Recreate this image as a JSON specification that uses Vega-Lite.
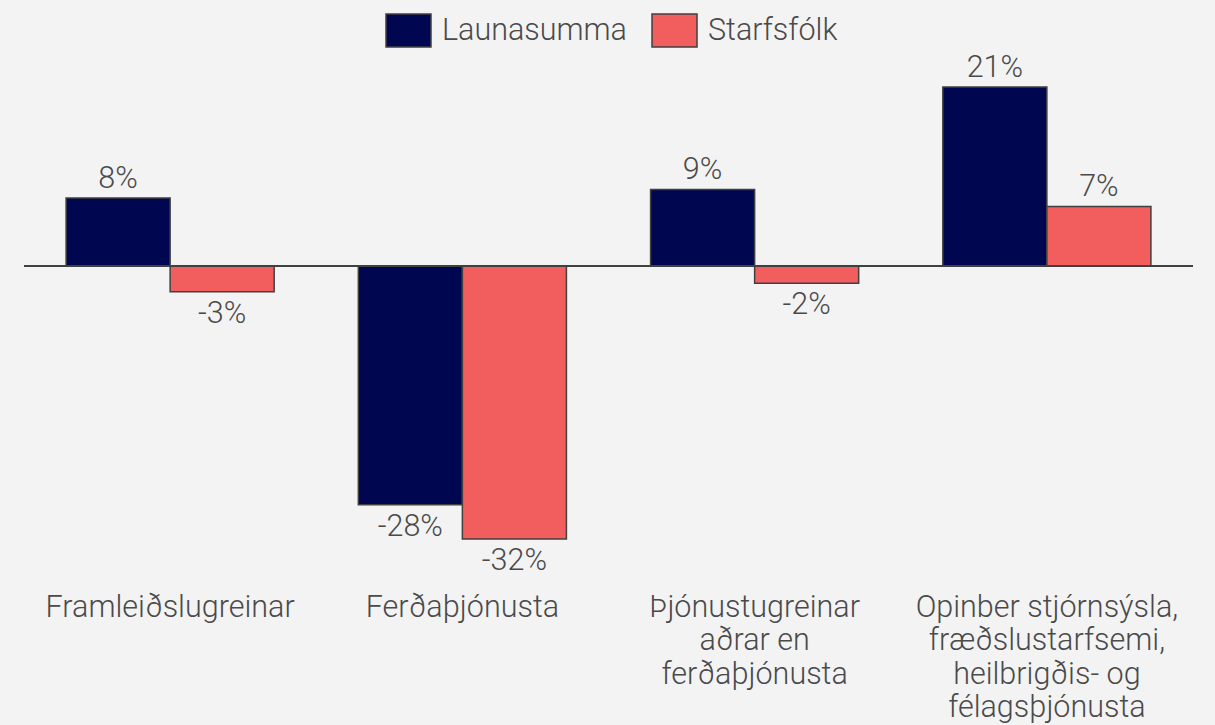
{
  "$schema": "https://vega.github.io/schema/vega-lite/v6.json",
  "width": 1169,
  "height": 520,
  "autosize": {"type": "none"},
  "padding": {"left": 24, "top": 53, "right": 22, "bottom": 152},
  "background": "#f3f3f3",
  "config": {
    "view": {"stroke": null},
    "font": "Roboto",
    "locale": {"number": {"decimal": ".", "thousands": ",", "grouping": [3], "currency": ["", ""], "minus": "-"}}
  },
  "data": {
    "values": [
      {"cat": "Framleiðslugreinar", "series": "Launasumma", "value": 0.08},
      {"cat": "Framleiðslugreinar", "series": "Starfsfólk", "value": -0.03},
      {"cat": "Ferðaþjónusta", "series": "Launasumma", "value": -0.28},
      {"cat": "Ferðaþjónusta", "series": "Starfsfólk", "value": -0.32},
      {"cat": "Þjónustugreinar|aðrar en|ferðaþjónusta", "series": "Launasumma", "value": 0.09},
      {"cat": "Þjónustugreinar|aðrar en|ferðaþjónusta", "series": "Starfsfólk", "value": -0.02},
      {"cat": "Opinber stjórnsýsla,|fræðslustarfsemi,|heilbrigðis- og|félagsþjónusta", "series": "Launasumma", "value": 0.21},
      {"cat": "Opinber stjórnsýsla,|fræðslustarfsemi,|heilbrigðis- og|félagsþjónusta", "series": "Starfsfólk", "value": 0.07}
    ]
  },
  "layer": [
    {
      "mark": {"type": "bar", "stroke": "#404040", "strokeWidth": 1.5},
      "encoding": {
        "x": {
          "field": "cat", "type": "nominal", "sort": null,
          "scale": {"paddingInner": 0.288, "paddingOuter": 0.144},
          "axis": {
            "orient": "bottom", "title": null, "domain": false, "ticks": false,
            "labelAngle": 0, "labelFont": "Roboto", "labelFontWeight": 300,
            "labelFontSize": 30.5, "labelColor": "#4a4a4a", "labelPadding": 19,
            "labelLineHeight": 33.5, "labelExpr": "split(datum.value, '|')",
            "labelOverlap": false, "labelBound": false, "labelLimit": 0
          }
        },
        "xOffset": {"field": "series", "type": "nominal", "sort": ["Launasumma", "Starfsfólk"]},
        "y": {"field": "value", "type": "quantitative", "scale": {"domain": [-0.36, 0.25], "nice": false, "zero": false}, "axis": null},
        "color": {
          "field": "series", "type": "nominal",
          "scale": {"domain": ["Launasumma", "Starfsfólk"], "range": ["#000650", "#f25e5e"]},
          "legend": {
            "title": null, "orient": "none", "direction": "horizontal",
            "legendX": 361, "legendY": -46,
            "symbolType": "M-1,-0.733H1V0.733H-1Z", "symbolSize": 2025,
            "symbolStrokeColor": "#404040", "symbolStrokeWidth": 1.5, "symbolOpacity": 1,
            "labelFont": "Roboto", "labelFontWeight": 300, "labelFontSize": 30.5,
            "labelColor": "#4a4a4a", "labelOffset": 10, "columnPadding": 22, "labelLimit": 0
          }
        }
      }
    },
    {
      "transform": [{"filter": "datum.value >= 0"}],
      "mark": {"type": "text", "baseline": "alphabetic", "dy": -10, "font": "Roboto", "fontWeight": 300, "fontSize": 30.5, "color": "#4a4a4a"},
      "encoding": {
        "x": {"field": "cat", "type": "nominal", "sort": null},
        "xOffset": {"field": "series", "type": "nominal", "sort": ["Launasumma", "Starfsfólk"]},
        "y": {"field": "value", "type": "quantitative"},
        "text": {"field": "value", "type": "quantitative", "format": ".0%"}
      }
    },
    {
      "transform": [{"filter": "datum.value < 0"}],
      "mark": {"type": "text", "baseline": "top", "dy": 7, "font": "Roboto", "fontWeight": 300, "fontSize": 30.5, "color": "#4a4a4a"},
      "encoding": {
        "x": {"field": "cat", "type": "nominal", "sort": null},
        "xOffset": {"field": "series", "type": "nominal", "sort": ["Launasumma", "Starfsfólk"]},
        "y": {"field": "value", "type": "quantitative"},
        "text": {"field": "value", "type": "quantitative", "format": ".0%"}
      }
    },
    {
      "mark": {"type": "rule", "color": "#404040", "strokeWidth": 2},
      "encoding": {"y": {"datum": 0}}
    }
  ]
}
